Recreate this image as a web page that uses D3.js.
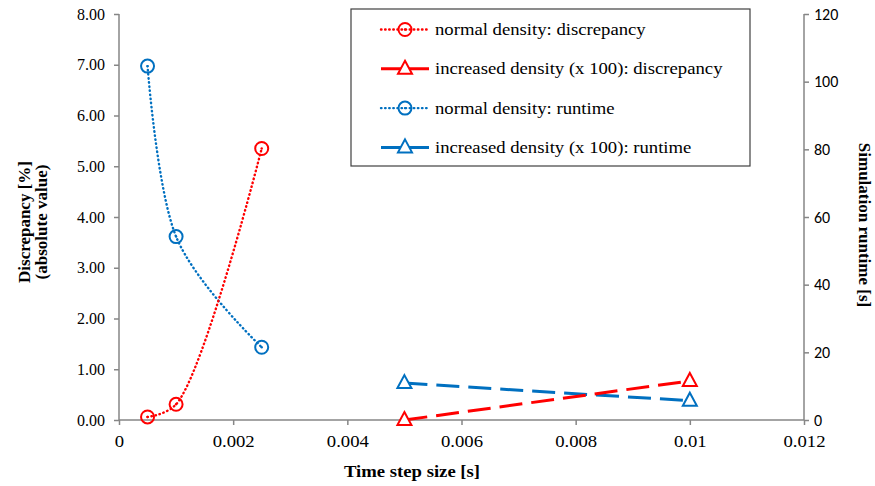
<!DOCTYPE html>
<html><head><meta charset="utf-8">
<script src="https://cdn.jsdelivr.net/npm/d3@7"></script>
<style>body{margin:0;background:#fff}</style>
</head><body>
<svg id="c" width="875" height="486"></svg>
<script>
const normalDiscX = [0.0005, 0.001, 0.0025];
const normalDiscY = [0.06, 0.31, 5.35];
const incDiscX = [0.005, 0.01];
const incDiscY = [0.0, 0.77];
const normalRunX = [0.0005, 0.001, 0.0025];
const normalRunY = [104.6, 54.2, 21.5];
const incRunX = [0.005, 0.01];
const incRunY = [10.9, 5.7];
const xTicks = [0, 0.002, 0.004, 0.006, 0.008, 0.01, 0.012];
const yLeftTicks = [0, 1, 2, 3, 4, 5, 6, 7, 8];
const yRightTicks = [0, 20, 40, 60, 80, 100, 120];
const legendLabels = ["normal density: discrepancy", "increased density (x 100): discrepancy", "normal density: runtime", "increased density (x 100):  runtime"];

const RED = "#ff0000", BLUE = "#0070c0", AX = "#868686";
const svg = d3.select("#c");
const L = 119, R = 804, T = 14, B = 420;
const x = d3.scaleLinear().domain([0, 0.012]).range([L, R]);
const yl = d3.scaleLinear().domain([0, 8]).range([B, T]);
const yr = d3.scaleLinear().domain([0, 120]).range([B, T]);

const serif = "'Liberation Serif','Times New Roman',serif";
const sans = "Carlito,Lato,'Open Sans',sans-serif";
const SX = 1.1; // horizontal stretch of the original text

// axes
const gx = svg.append("g").attr("transform", `translate(0,${B})`)
  .call(d3.axisBottom(x).tickValues(xTicks).tickFormat(d => d === 0 ? "0" : String(+d.toFixed(3))).tickSize(5).tickPadding(10));
const gl = svg.append("g").attr("transform", `translate(${L},0)`)
  .call(d3.axisLeft(yl).tickValues(yLeftTicks).tickFormat(d3.format(".2f")).tickSize(5).tickPadding(9));
const gr = svg.append("g").attr("transform", `translate(${R},0)`)
  .call(d3.axisRight(yr).tickValues(yRightTicks).tickSize(5).tickPadding(5));
[gx, gl, gr].forEach(g => {
  g.select(".domain").attr("stroke", AX).attr("stroke-width", 1.5);
  g.selectAll(".tick line").attr("stroke", AX).attr("stroke-width", 1.5);
  g.selectAll("text").attr("fill", "#000");
});
gx.selectAll("text").style("font-family", serif).style("font-size", "17px").attr("transform", `scale(${SX},1)`);
gl.selectAll("text").style("font-family", serif).style("font-size", "16px");
gr.selectAll("text").style("font-family", sans).style("font-size", "16px");
gr.select(".domain").attr("d", `M0,${T}V${B}`);
gl.select(".domain").attr("d", `M0,${T}V${B}`);
gx.select(".domain").attr("d", `M${L},0H${R}`);

// titles
svg.append("text").attr("transform", `translate(412,477) scale(${SX},1)`).attr("text-anchor", "middle")
  .style("font-family", serif).style("font-weight", "bold").style("font-size", "17px").text("Time step size [s]");
const lt = svg.append("text").attr("transform", "translate(30,222) rotate(-90)").attr("text-anchor", "middle")
  .style("font-family", serif).style("font-weight", "bold").style("font-size", "17px");
lt.append("tspan").attr("x", 0).attr("dy", 0).text("Discrepancy [%]");
lt.append("tspan").attr("x", 0).attr("dy", 17).text("(absolute value)");
svg.append("text").attr("transform", "translate(859,225) rotate(90)").attr("text-anchor", "middle")
  .style("font-family", serif).style("font-weight", "bold").style("font-size", "17px").text("Simulation runtime [s]");

// series
function draw(xs, ys, yScale, color, curve, marker) {
  const pts = xs.map((v, i) => [x(v), yScale(ys[i])]);
  const line = d3.line().curve(curve || d3.curveLinear);
  const dotted = !!curve;
  svg.append("path").attr("d", line(pts)).attr("fill", "none").attr("stroke", color)
    .attr("stroke-width", dotted ? 2.4 : 3)
    .attr("stroke-dasharray", dotted ? "0.5 3.6" : "23 9")
    .attr("stroke-linecap", dotted ? "round" : "butt");
  pts.forEach(p => drawMarker(p[0], p[1], color, marker));
}
function drawMarker(px, py, color, marker) {
  if (marker === "circle") {
    svg.append("circle").attr("cx", px).attr("cy", py).attr("r", 6.5).attr("fill", "none").attr("stroke", color).attr("stroke-width", 2);
    svg.append("circle").attr("cx", px).attr("cy", py).attr("r", 1.2).attr("fill", color);
  } else {
    svg.append("path").attr("d", `M${px},${py - 8}L${px + 7},${py + 5}L${px - 7},${py + 5}Z`)
      .attr("fill", "#fff").attr("stroke", color).attr("stroke-width", 2);
  }
}
draw(normalRunX, normalRunY, yr, BLUE, d3.curveCatmullRom.alpha(0), "circle");
draw(normalDiscX, normalDiscY, yl, RED, d3.curveCatmullRom.alpha(0.5), "circle");
draw(incRunX, incRunY, yr, BLUE, null, "tri");
draw(incDiscX, incDiscY, yl, RED, null, "tri");

// legend
svg.append("rect").attr("x", 351).attr("y", 9).attr("width", 399).attr("height", 157)
  .attr("fill", "#fff").attr("stroke", "#404040").attr("stroke-width", 1.2);
const legColors = [RED, RED, BLUE, BLUE];
const legMarkers = ["circle", "tri", "circle", "tri"];
const legDotted = [true, false, true, false];
legendLabels.forEach((lab, i) => {
  const cy = 29.5 + i * 39.3;
  svg.append("line").attr("x1", 381).attr("x2", 429).attr("y1", cy).attr("y2", cy)
    .attr("stroke", legColors[i]).attr("stroke-width", legDotted[i] ? 2.4 : 3)
    .attr("stroke-dasharray", legDotted[i] ? "0.5 3.6" : null)
    .attr("stroke-linecap", legDotted[i] ? "round" : "butt");
  drawMarker(405, cy, legColors[i], legMarkers[i]);
  svg.append("text").attr("transform", `translate(435,${cy + 5.5}) scale(${SX},1)`)
    .style("font-family", serif).style("font-size", "17px").text(lab);
});
</script>
</body></html>
